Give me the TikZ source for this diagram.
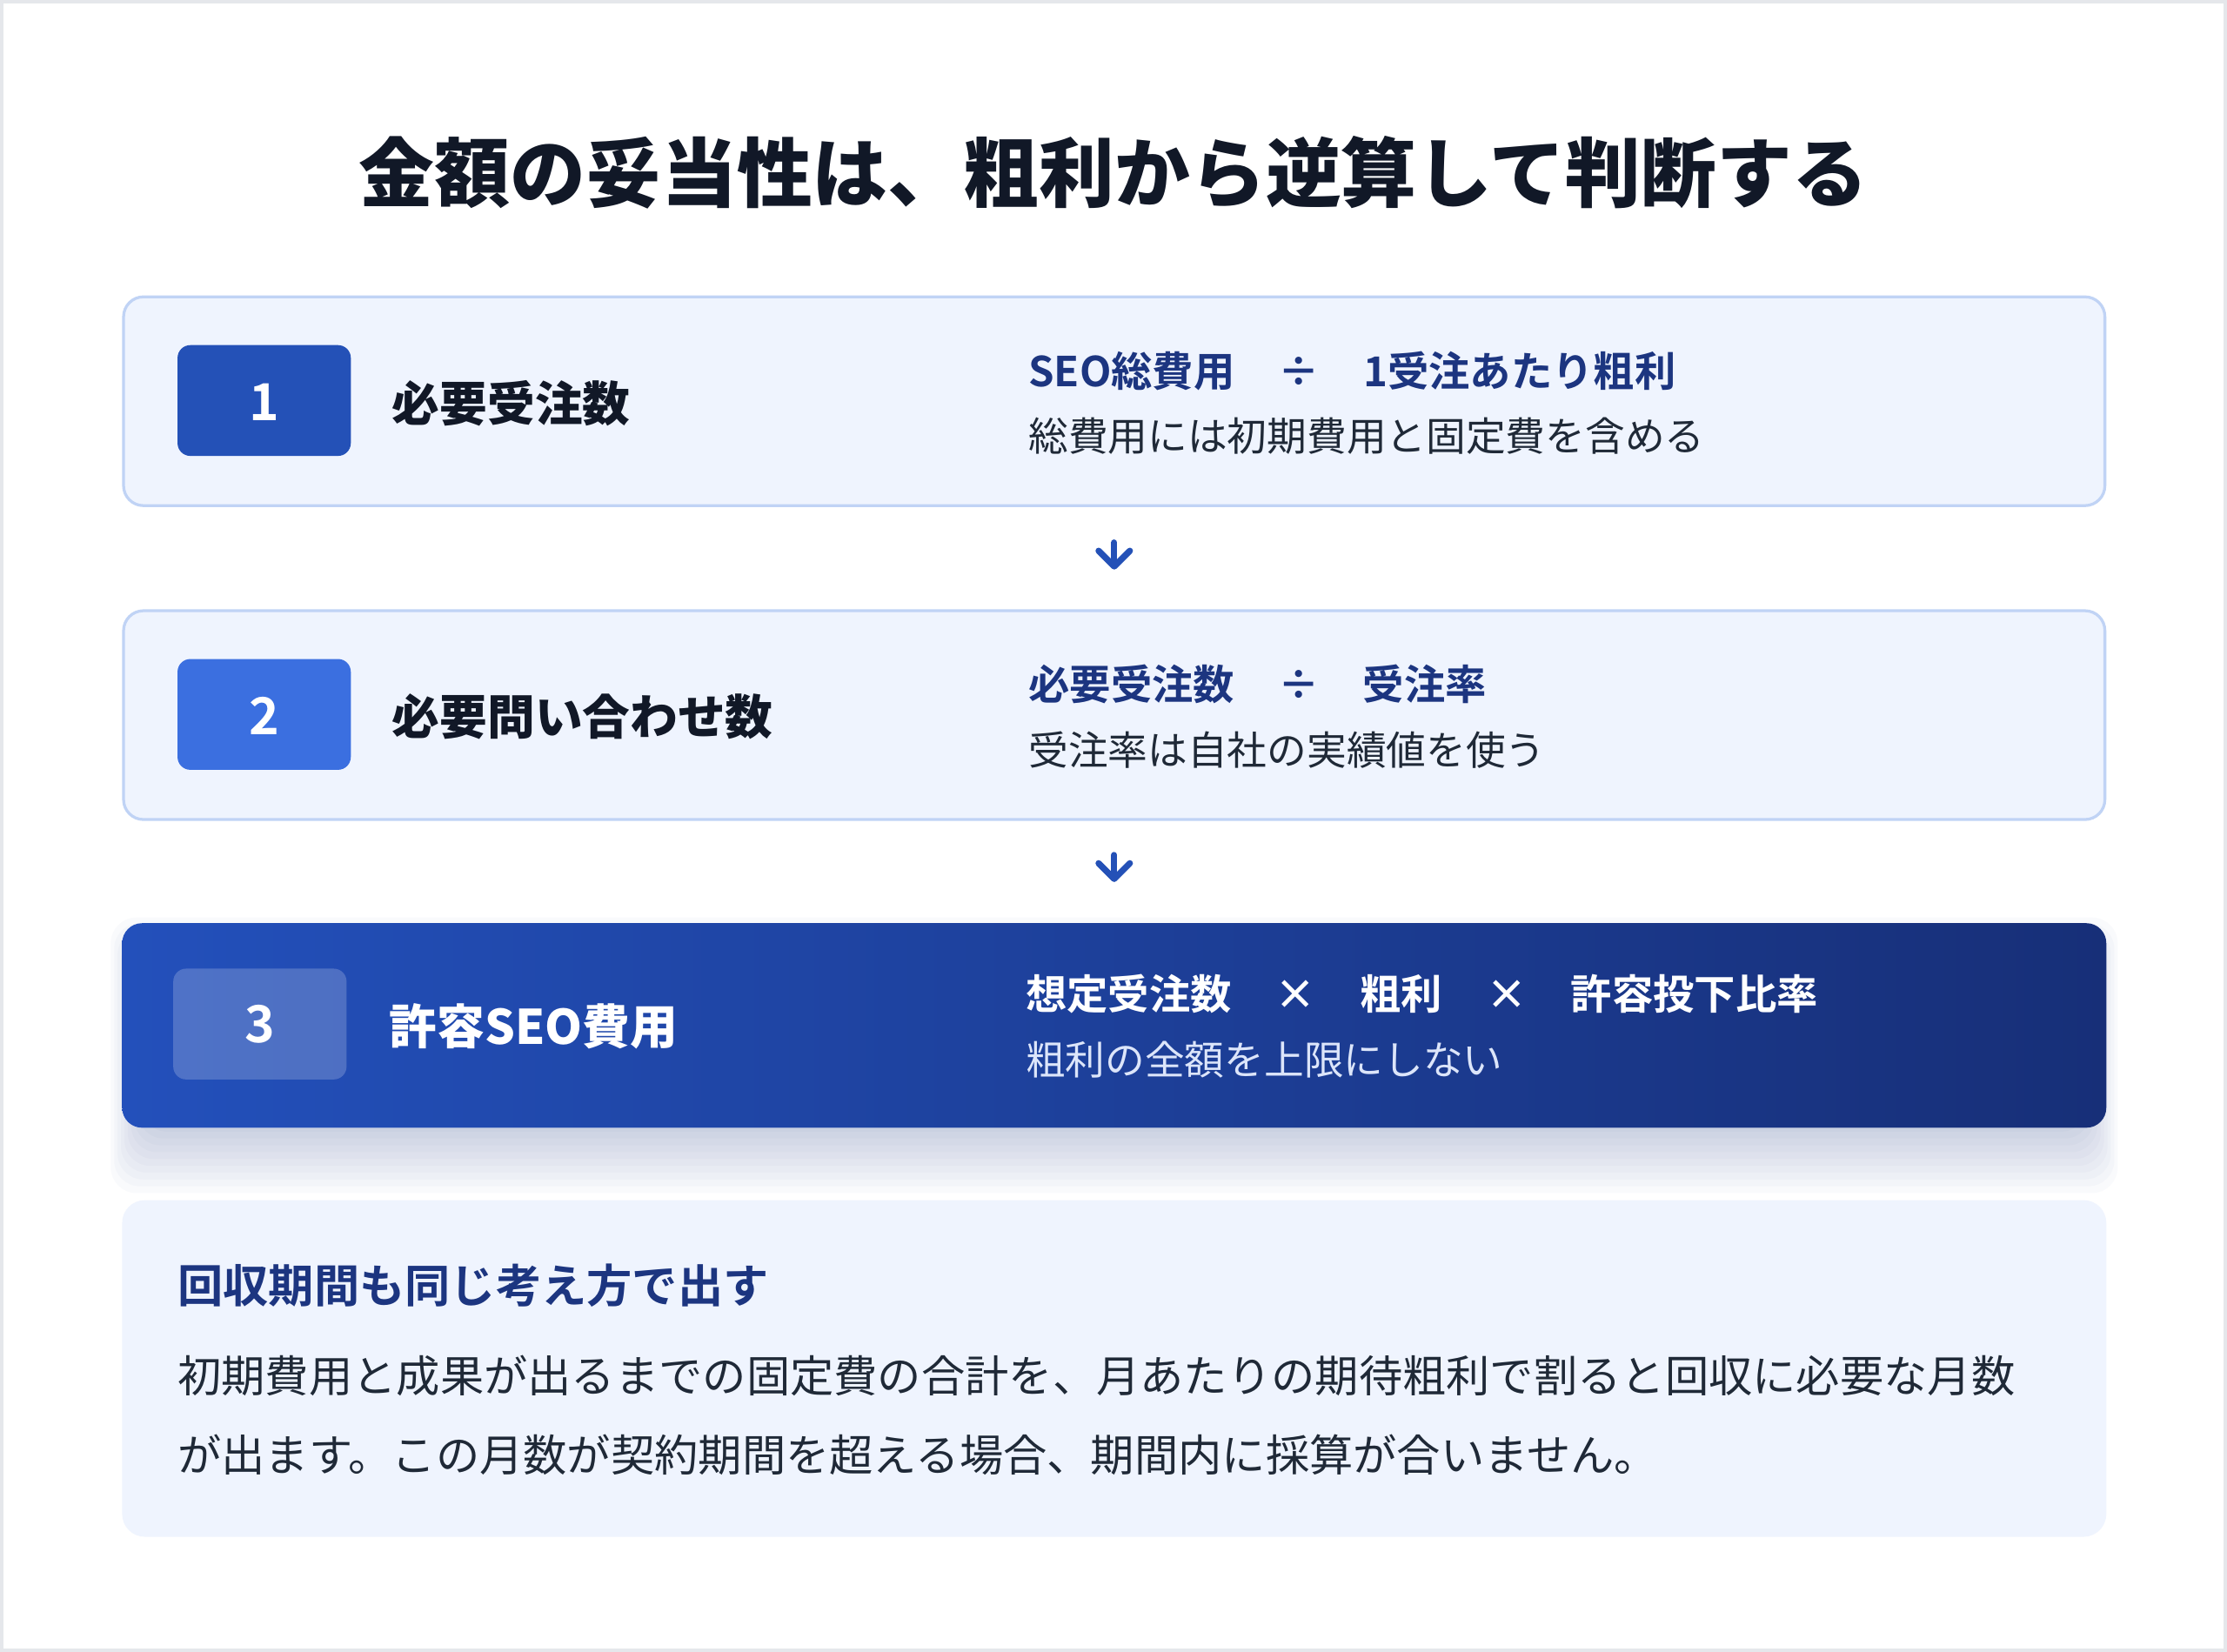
\documentclass[tikz,border=0pt]{standalone}
\usepackage{fontspec}
\setmainfont{Noto Sans CJK JP}[BoldFont={Noto Sans CJK JP Bold}]
\newfontfamily\heavy{Noto Sans CJK JP Black}
\usetikzlibrary{positioning,arrows.meta}
\definecolor{framegray}{HTML}{E5E7EB}
\definecolor{boxfill}{HTML}{EFF4FE}
\definecolor{boxline}{HTML}{C0D3F5}
\definecolor{ink}{HTML}{111827}
\definecolor{subink}{HTML}{1F2937}
\definecolor{navy}{HTML}{1C3580}
\definecolor{badgeone}{HTML}{2451B7}
\definecolor{badgetwo}{HTML}{3B6FE0}
\definecolor{arrowblue}{HTML}{2451B7}
\definecolor{darkleft}{HTML}{2350BB}
\definecolor{darkright}{HTML}{172F78}
\definecolor{paleink}{HTML}{DCE5FA}
\definecolor{shadowc}{HTML}{1E3A8A}
\tikzset{
  stepbox/.style={draw=boxline, line width=2pt, fill=boxfill, rounded corners=14pt,
    minimum width=1395pt, minimum height=147pt, inner sep=0pt},
  badge/.style={rounded corners=9pt, minimum width=122pt, minimum height=78pt, inner sep=0pt},
  num/.style={anchor=base, text=white, inner sep=0pt, font=\fontsize{36}{40}\selectfont\bfseries},
  steplabel/.style={anchor=base west, inner sep=0pt, font=\fontsize{33.5}{40}\selectfont\heavy},
  term/.style={anchor=base west, inner sep=0pt, font=\fontsize{29}{34}\selectfont\bfseries},
  op/.style={anchor=base, inner sep=0pt, xshift=45pt, font=\fontsize{29}{34}\selectfont\bfseries},
  note/.style={anchor=base west, inner sep=0pt, font=\fontsize{28}{32}\selectfont},
  bodyline/.style={anchor=base west, inner sep=0pt, text=subink, font=\fontsize{30.8}{38}\selectfont},
  flow/.style={draw=arrowblue, line width=4.4pt, line cap=round,
    -{Straight Barb[length=11pt,width=22pt,round]}},
}
\begin{document}
\begin{tikzpicture}[x=1pt,y=-1pt]
\useasboundingbox (0,0) rectangle (1568,1163.14);
\fill[white] (0,0) rectangle (1568,1163.14);
\draw[framegray, line width=2.4pt] (1.2,1.2) rectangle (1566.8,1161.94);
% title
\node[anchor=base, inner sep=0pt, text=ink, font=\fontsize{53.2}{60}\selectfont\heavy] (title) at (784,142) {金額の妥当性は、粗利から逆算して判断する};
% step 1
\node[stepbox] (box1) at (784.5,282.5) {};
\node[badge, fill=badgeone] (badge1) at (186,282) {};
\node[num] at (186,296) {1};
\node[steplabel, text=ink] (label1) at (276,296.5) {必要受注数};
\node[term, text=navy] (f1a) at (724,272) {SEO総費用};
\node[op, text=navy] (f1op) at (f1a.base east) {÷};
\node[term, text=navy, xshift=45pt] (f1b) at (f1op.base) {1受注あたり粗利};
\node[note, text=subink] (note1) at (724,317.6) {総費用には初期費用と固定費を含める};
% step 2
\node[stepbox] (box2) at (784.5,503.5) {};
\node[badge, fill=badgetwo] (badge2) at (186,503) {};
\node[num] at (186,517) {2};
\node[steplabel, text=ink] (label2) at (276,517.5) {必要問い合わせ数};
\node[term, text=navy] (f2a) at (724,493) {必要受注数};
\node[op, text=navy] (f2op) at (f2a.base east) {÷};
\node[term, text=navy, xshift=45pt] (f2b) at (f2op.base) {受注率};
\node[note, text=subink] (note2) at (724,538.5) {受注率は自社の実績値を使う};
% step 3 with soft shadow
\foreach \e in {0,4,...,40}
  \fill[shadowc, opacity=0.022, rounded corners=18pt] (102-\e*0.6,686-\e) rectangle (1467+\e*0.6,792+\e*1.2);
\node[stepbox, draw=none, left color=darkleft, right color=darkright, minimum width=1397pt, minimum height=144pt] (box3) at (784.5,722) {};
\node[badge, fill=white, fill opacity=0.2] (badge3) at (183,721) {};
\node[num] at (183,734) {3};
\node[steplabel, text=white] (label3) at (274,735.5) {許容SEO費用};
\node[term, text=white] (f3a) at (722,711) {想定受注数};
\node[op, text=white] (f3op) at (f3a.base east) {×};
\node[term, text=white, xshift=45pt] (f3b) at (f3op.base) {粗利};
\node[op, text=white] (f3op2) at (f3b.base east) {×};
\node[term, text=white, xshift=45pt] (f3c) at (f3op2.base) {許容投下比率};
\node[note, text=paleink] (note3) at (722,756.5) {粗利の全額を上限にしない};
% arrows between steps
\draw[flow, shorten <=25pt, shorten >=28pt] (box1.south) -- (box2.north);
\draw[flow, shorten <=24pt, shorten >=28pt] (box2.south) -- (box3.north);
% payback note
\node[fill=boxfill, rounded corners=16pt, minimum width=1397pt, minimum height=237pt, inner sep=0pt] (payback) at (784.5,963.5) {};
\node[anchor=base west, inner sep=0pt, text=navy, font=\fontsize{32}{38}\selectfont\bfseries] (payhead) at (125,917) {回収期間も同じ考え方で出す};
\node[bodyline] (payline1) at (125,980) {初期費用と成果が出るまでの固定費の合計を、月あたりの期待粗利で割ると回収に必要な月数};
\node[bodyline] (payline2) at (125,1036) {が出ます。この月数が契約期間を超える場合、期間内に採算が合いません。};
\end{tikzpicture}
\end{document}
